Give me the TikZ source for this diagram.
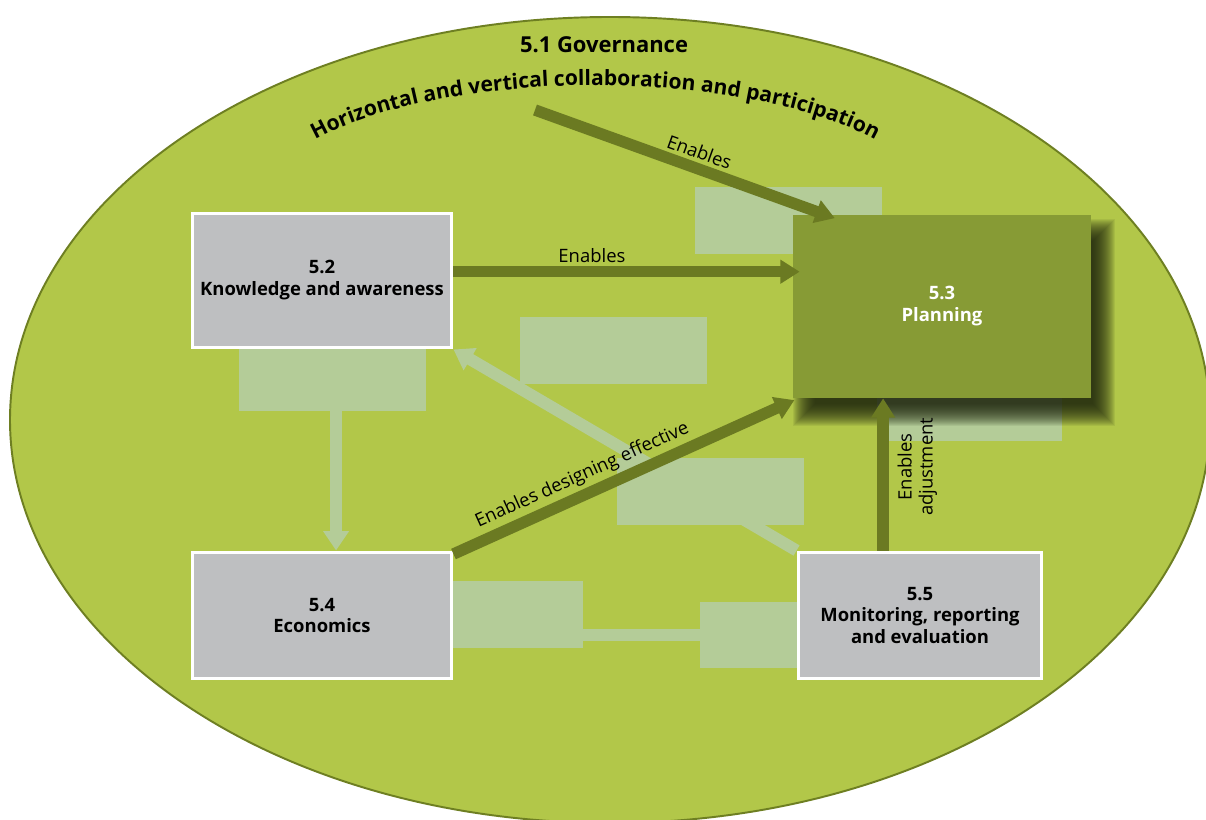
\documentclass[tikz,border=0pt]{standalone}
\usepackage{fontspec}
\setmainfont{Open Sans}
\usetikzlibrary{arrows.meta,positioning,calc,decorations.text}
\definecolor{envgreen}{HTML}{B2C749}
\definecolor{envedge}{HTML}{6E7F22}
\definecolor{paleleaf}{HTML}{B4CC98}
\definecolor{boxgrey}{HTML}{BEBFC1}
\definecolor{planolive}{HTML}{879B35}
\definecolor{arrowolive}{HTML}{6B7A22}
\definecolor{shadowink}{HTML}{1E240E}
\tikzset{
  area/.style={draw=white, line width=1.7pt, fill=boxgrey, inner sep=0pt, align=center,
    font=\bfseries\fontsize{10.5}{12.5}\selectfont},
  planbox/.style={fill=planolive, inner sep=0pt, align=center, text=white,
    font=\bfseries\fontsize{10.5}{12.5}\selectfont},
  darr/.style={-{Triangle[length=11pt,width=13pt]}, line width=6.5pt, draw=arrowolive},
  larr/.style={-{Triangle[length=11pt,width=14pt]}, line width=6.8pt, draw=paleleaf},
  lnk/.style={line width=6.8pt, draw=paleleaf},
  pale/.style={fill=paleleaf},
  lbl/.style={font=\fontsize{10.5}{12}\selectfont, inner sep=2pt},
}
\begin{document}
\begin{tikzpicture}[x=0.02cm, y=-0.02cm]
  \clip (0,0) rectangle (1206,820);
  \fill[white] (0,0) rectangle (1206,820);
  % governance area
  \draw[draw=envedge, fill=envgreen, line width=1.1pt] (610,420) ellipse [x radius=600, y radius=403];
  \node[font=\bfseries\fontsize{12.5}{15}\selectfont] (govtitle) at (604,45) {5.1 Governance};
  \path[decorate, decoration={text along path, text align=center,
      text={|\bfseries\fontsize{12}{15}\selectfont|Horizontal and vertical collaboration and participation}}]
    (313,141) .. controls (445,67) and (745,67) .. (877,141);
  \coordinate (govsrc) at (535,110);
  % pale panels
  \fill[pale] (695,187) rectangle (882,254);
  \fill[pale] (239,349) rectangle (426,411);
  \fill[pale] (520,317) rectangle (707,384);
  \fill[pale] (617,458) rectangle (804,525);
  \fill[pale] (877,398) rectangle (1062,441);
  \fill[pale] (452,581) rectangle (583,648);
  \fill[pale] (700,602) rectangle (798,668);
  % boxes
  \node[area, minimum width=5.2cm, minimum height=2.7cm] (know) at (322,280.5) {5.2\\Knowledge and awareness};
  \node[area, minimum width=5.2cm, minimum height=2.54cm] (econ) at (322,615.5) {5.4\\Economics};
  \node[area, minimum width=4.88cm, minimum height=2.54cm] (monit) at (920,615.5) {5.5\\Monitoring, reporting\\and evaluation};
  % soft shadow of the planning box
  \foreach \e in {12,11,...,-10}
    \fill[shadowink, opacity=0.075]
      ($(942,306.5)+(-149+12-\e,-91.5+16-\e)$) rectangle ($(942,306.5)+(149+12+\e,91.5+16+\e)$);
  \node[planbox, minimum width=5.96cm, minimum height=3.66cm] (plan) at (942,306.5) {5.3\\Planning};
  % pale links
  \draw[larr] ([xshift=8pt]know.south) -- ([xshift=8pt]econ.north);
  \draw[larr] (monit.north west) -- (know.south east);
  \draw[lnk] ([yshift=-11pt]econ.east) -- ([yshift=-11pt]monit.west);
  % enabling arrows
  \draw[darr] (govsrc) -- ([xshift=24pt,yshift=-2pt]plan.north west)
    node[lbl, sloped, above, pos=0.53] {Enables};
  \draw[darr] ([yshift=5pt]know.east) -- ([yshift=5pt,xshift=4pt]know.east -| plan.west)
    node[lbl, above, pos=0.4] {Enables};
  \draw[darr] ([yshift=-2pt]econ.north east) -- ([xshift=1pt,yshift=-1pt]plan.south west)
    node[lbl, sloped, above, pos=0.4] {Enables designing effective};
  \draw[darr] ([xshift=-21pt]monit.north) -- ([xshift=-21pt]monit.north |- plan.south)
    node[lbl, rotate=90, align=center, pos=0.55, right=3pt, anchor=north] {Enables\\adjustment};
\end{tikzpicture}
\end{document}
